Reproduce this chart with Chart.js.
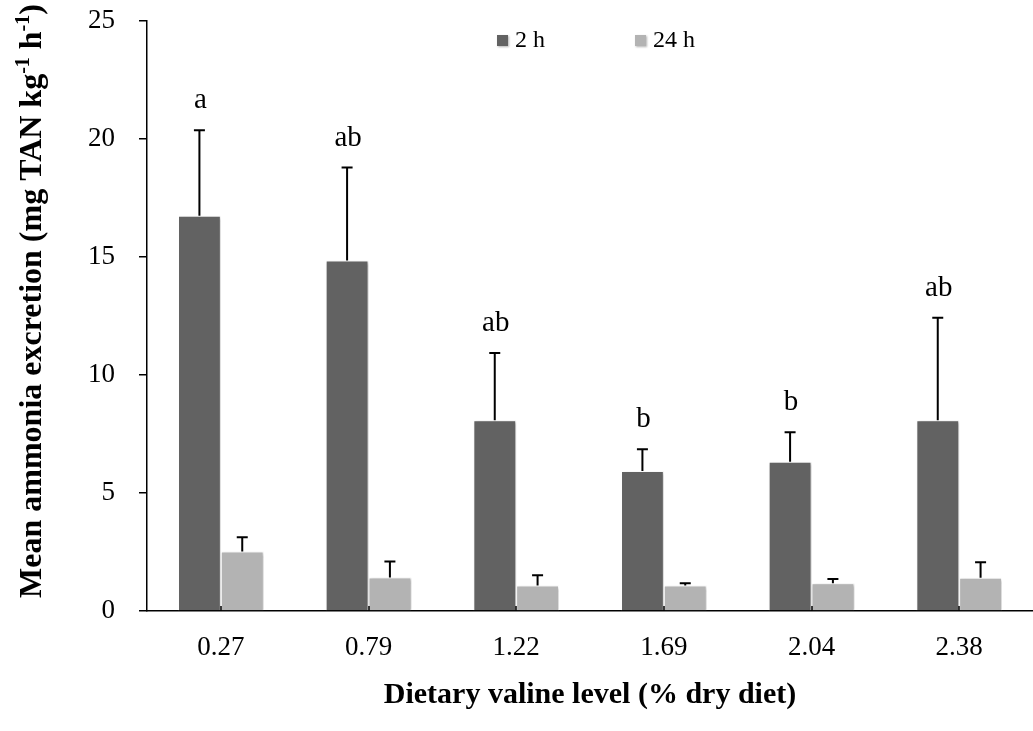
<!DOCTYPE html>
<html>
<head>
<meta charset="utf-8">
<script src="https://cdn.jsdelivr.net/npm/chart.js@4.4.1/dist/chart.umd.min.js"></script>
<style>
  html, body { margin: 0; padding: 0; background: #fff; }
  #wrap { width: 1033px; height: 731px; }
</style>
</head>
<body>
<div id="wrap"><canvas id="c"></canvas></div>
<script>
// values
const levels = ['0.27', '0.79', '1.22', '1.69', '2.04', '2.38'];
const mean2h = [16.75, 14.85, 8.08, 5.93, 6.32, 8.08];
const err2h = [3.62, 3.94, 2.85, 0.92, 1.25, 4.35];
const mean24h = [2.52, 1.42, 1.08, 1.08, 1.18, 1.41];
const err24h = [0.60, 0.68, 0.44, 0.10, 0.18, 0.66];
const letters = ['a', 'ab', 'ab', 'b', 'b', 'ab'];
const yTicks = [0, 5, 10, 15, 20, 25];
const seriesNames = ['2 h', '24 h'];

const C_2H = '#626262';
const C_24H = '#b3b3b3';
const serif = '"Liberation Serif", "Times New Roman", serif';

// y title with superscripts, drawn rotated
function drawYTitle(ctx, cx, cy) {
  const parts = [
    ['Mean ammonia excretion (mg TAN kg', false],
    ['-1', true],
    [' h', false],
    ['-1', true],
    [')', false]
  ];
  const big = 'bold 32px ' + serif, small = 'bold 20px ' + serif;
  let total = 0;
  parts.forEach(([t, sup]) => { ctx.font = sup ? small : big; total += ctx.measureText(t).width; });
  ctx.save();
  ctx.translate(cx, cy);
  ctx.rotate(-Math.PI / 2);
  ctx.fillStyle = '#000';
  ctx.textAlign = 'left';
  ctx.textBaseline = 'alphabetic';
  let x = -total / 2;
  parts.forEach(([t, sup]) => {
    ctx.font = sup ? small : big;
    ctx.fillText(t, x, sup ? -12 : 0);
    x += ctx.measureText(t).width;
  });
  ctx.restore();
}

const extras = {
  id: 'extras',
  beforeDatasetsDraw(chart) {
    const ctx = chart.ctx;
    ctx.save();
    ctx.shadowColor = 'rgba(0,0,0,0.3)';
    ctx.shadowBlur = 3;
    ctx.shadowOffsetX = 1.5;
    ctx.shadowOffsetY = 1;
  },
  afterDatasetsDraw(chart) {
    const ctx = chart.ctx;
    ctx.restore();
    const ys = chart.scales.y, xs = chart.scales.x;
    const area = chart.chartArea;

    ctx.save();
    ctx.strokeStyle = '#000';
    ctx.lineWidth = 1.5;
    // little inside ticks on category axis
    levels.forEach((_, i) => {
      const px = Math.round(xs.getPixelForValue(i));
      ctx.beginPath();
      ctx.moveTo(px, area.bottom);
      ctx.lineTo(px, area.bottom - 5);
      ctx.stroke();
    });

    // upward error bars
    ctx.lineWidth = 2;
    [[mean2h, err2h], [mean24h, err24h]].forEach(([m, e], di) => {
      chart.getDatasetMeta(di).data.forEach((bar, i) => {
        const y0 = ys.getPixelForValue(m[i]);
        const y1 = ys.getPixelForValue(m[i] + e[i]);
        ctx.beginPath();
        ctx.moveTo(bar.x, y0);
        ctx.lineTo(bar.x, y1);
        ctx.moveTo(bar.x - 5.5, y1);
        ctx.lineTo(bar.x + 5.5, y1);
        ctx.stroke();
      });
    });

    // significance letters
    ctx.fillStyle = '#000';
    ctx.font = '29px ' + serif;
    ctx.textAlign = 'center';
    ctx.textBaseline = 'alphabetic';
    const meta0 = chart.getDatasetMeta(0);
    letters.forEach((t, i) => {
      const top = ys.getPixelForValue(mean2h[i] + err2h[i]);
      ctx.fillText(t, meta0.data[i].x + 1, top - 22);
    });
    ctx.restore();
  },
  afterDraw(chart) {
    const ctx = chart.ctx;
    const area = chart.chartArea;
    ctx.save();

    // legend
    const colors = [C_2H, C_24H];
    const boxX = [497, 635];
    ctx.font = '24px ' + serif;
    ctx.textBaseline = 'middle';
    ctx.textAlign = 'left';
    seriesNames.forEach((name, i) => {
      ctx.save();
      ctx.shadowColor = 'rgba(0,0,0,0.3)';
      ctx.shadowBlur = 2;
      ctx.shadowOffsetX = 1;
      ctx.shadowOffsetY = 1;
      ctx.fillStyle = colors[i];
      ctx.fillRect(boxX[i], 35, 11, 11);
      ctx.restore();
      ctx.fillStyle = '#000';
      ctx.fillText(name, boxX[i] + 18, 41);
    });

    // x title
    ctx.font = 'bold 30px ' + serif;
    ctx.textAlign = 'center';
    ctx.textBaseline = 'alphabetic';
    ctx.fillText('Dietary valine level (% dry diet)', (area.left + area.right) / 2, 703);

    ctx.restore();
    drawYTitle(ctx, 41, 301);
  }
};

new Chart(document.getElementById('c'), {
  type: 'bar',
  data: {
    labels: levels,
    datasets: [
      { label: seriesNames[0], data: mean2h, backgroundColor: C_2H, borderColor: '#fff', borderWidth: 1 },
      { label: seriesNames[1], data: mean24h, backgroundColor: C_24H, borderColor: '#fff', borderWidth: 1 }
    ]
  },
  options: {
    responsive: true,
    maintainAspectRatio: false,
    animation: false,
    categoryPercentage: 0.58,
    barPercentage: 1.0,
    layout: { padding: { top: 21, right: 0, left: 0, bottom: 0 } },
    plugins: { legend: { display: false }, tooltip: { enabled: false } },
    scales: {
      x: {
        grid: { drawOnChartArea: false, drawTicks: false, color: '#000' },
        border: { color: '#000', width: 1.5 },
        ticks: { font: { family: serif, size: 27 }, color: '#000', padding: 21 },
        afterFit(s) { s.height = 120; }
      },
      y: {
        min: 0,
        max: 25,
        afterBuildTicks(s) { s.ticks = yTicks.map(v => ({ value: v })); },
        grid: { drawOnChartArea: false, tickLength: 8, color: '#000', lineWidth: 1.5 },
        border: { color: '#000', width: 1.5 },
        ticks: { font: { family: serif, size: 27 }, color: '#000', padding: 24 },
        afterFit(s) { s.width = 147; s.paddingTop = 0; s.paddingBottom = 0; }
      }
    }
  },
  plugins: [extras]
});
</script>
</body>
</html>
